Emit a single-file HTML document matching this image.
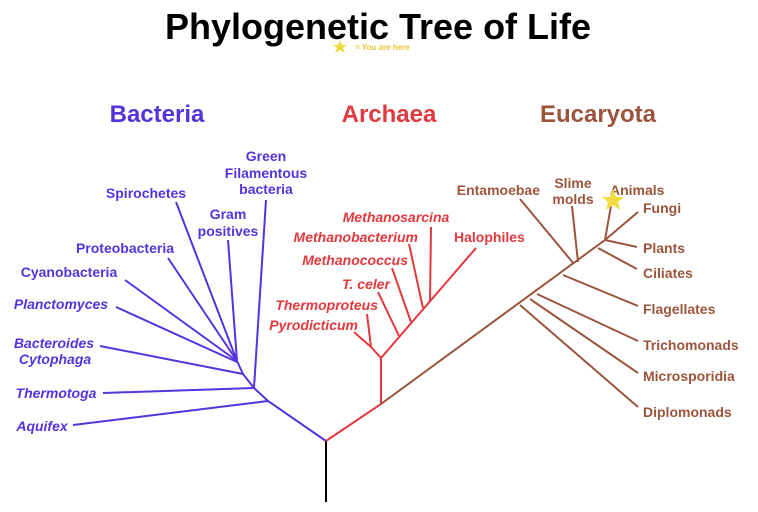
<!DOCTYPE html>
<html><head><meta charset="utf-8"><style>
html,body{margin:0;padding:0;background:#fff;}
svg{display:block;}
text{font-family:"Liberation Sans",sans-serif;font-weight:bold;}
</style></head><body>
<svg width="758" height="512" viewBox="0 0 758 512" xmlns="http://www.w3.org/2000/svg">
<text x="378" y="39" font-size="36" text-anchor="middle" fill="#000">Phylogenetic Tree of Life</text>
<polygon points="340,40 342,45 347,45 343,48 345,53 340,50 335,53 337,48 333,45 338,45" fill="#f0dc3c"/>
<text x="355" y="50" font-size="8" fill="#e8c830" font-weight="normal">= You are here</text>

<text x="157" y="122" font-size="24" text-anchor="middle" fill="#5533dd">Bacteria</text>
<text x="389" y="122" font-size="24" text-anchor="middle" fill="#e0393e">Archaea</text>
<text x="598" y="122" font-size="24" text-anchor="middle" fill="#9c553c">Eucaryota</text>

<line x1="326" y1="441" x2="326" y2="502" stroke="#000" stroke-width="2"/>

<g stroke="#5533dd" stroke-width="2" fill="none">
<polyline points="326,441 268,401 254,388 243,374 237,361"/>
<line x1="73" y1="425" x2="268" y2="401"/>
<line x1="103" y1="393" x2="254" y2="388"/>
<line x1="266" y1="200" x2="254" y2="388"/>
<line x1="100" y1="346" x2="243" y2="374"/>
<line x1="228" y1="240" x2="237" y2="361"/>
<line x1="176" y1="202" x2="237" y2="361"/>
<line x1="168" y1="258" x2="237" y2="361"/>
<line x1="125" y1="280" x2="237" y2="361"/>
<line x1="116" y1="307" x2="237" y2="362"/>
</g>
<g fill="#5533dd" font-size="14">
<text x="266" y="161" text-anchor="middle">Green</text>
<text x="266" y="178" text-anchor="middle">Filamentous</text>
<text x="266" y="194" text-anchor="middle">bacteria</text>
<text x="146" y="198" text-anchor="middle">Spirochetes</text>
<text x="228" y="219" text-anchor="middle">Gram</text>
<text x="228" y="236" text-anchor="middle">positives</text>
<text x="125" y="253" text-anchor="middle">Proteobacteria</text>
<text x="69" y="277" text-anchor="middle">Cyanobacteria</text>
<g font-style="italic">
<text x="61" y="309" text-anchor="middle">Planctomyces</text>
<text x="54" y="348" text-anchor="middle">Bacteroides</text>
<text x="55" y="364" text-anchor="middle">Cytophaga</text>
<text x="56" y="398" text-anchor="middle">Thermotoga</text>
<text x="42" y="431" text-anchor="middle">Aquifex</text>
</g>
</g>

<g stroke="#e0393e" stroke-width="2" fill="none">
<polyline points="326,441 381,404 381,358 476,248"/>
<polyline points="354,332 371,347 381,358"/>
<line x1="367" y1="314" x2="371" y2="347"/>
<line x1="378" y1="292" x2="399" y2="336"/>
<line x1="392" y1="268" x2="411" y2="322"/>
<line x1="409" y1="244" x2="423" y2="308"/>
<line x1="431" y1="227" x2="430" y2="302"/>
</g>
<g fill="#e0393e" font-size="14" font-style="italic">
<text x="396" y="222" text-anchor="middle">Methanosarcina</text>
<text x="418" y="242" text-anchor="end">Methanobacterium</text>
<text x="408" y="265" text-anchor="end">Methanococcus</text>
<text x="390" y="289" text-anchor="end">T. celer</text>
<text x="378" y="310" text-anchor="end">Thermoproteus</text>
<text x="358" y="330" text-anchor="end">Pyrodicticum</text>
<text x="454" y="242" font-style="normal">Halophiles</text>
</g>

<g stroke="#9c553c" stroke-width="2" fill="none">
<line x1="381" y1="404" x2="605" y2="240"/>
<line x1="520" y1="305" x2="638" y2="407"/>
<line x1="530" y1="299" x2="638" y2="373"/>
<line x1="537" y1="294" x2="638" y2="341"/>
<line x1="563" y1="275" x2="638" y2="306"/>
<line x1="520" y1="199" x2="574" y2="264"/>
<line x1="572" y1="206" x2="578" y2="262"/>
<line x1="598" y1="248" x2="637" y2="269"/>
<line x1="605" y1="240" x2="637" y2="247"/>
<line x1="605" y1="240" x2="638" y2="212"/>
<line x1="605" y1="240" x2="612" y2="200"/>
</g>
<g fill="#9c553c" font-size="14">
<text x="540" y="195" text-anchor="end">Entamoebae</text>
<text x="573" y="188" text-anchor="middle">Slime</text>
<text x="573" y="204" text-anchor="middle">molds</text>
<text x="610" y="195">Animals</text>
<text x="643" y="213">Fungi</text>
<text x="643" y="253">Plants</text>
<text x="643" y="278">Ciliates</text>
<text x="643" y="314">Flagellates</text>
<text x="643" y="350">Trichomonads</text>
<text x="643" y="381">Microsporidia</text>
<text x="643" y="417">Diplomonads</text>
</g>
<polygon points="613,189 616,197 624,197 618,202 620,210 613,205 606,210 608,202 602,197 610,197" fill="#f0dc3c"/>
</svg>
</body></html>
